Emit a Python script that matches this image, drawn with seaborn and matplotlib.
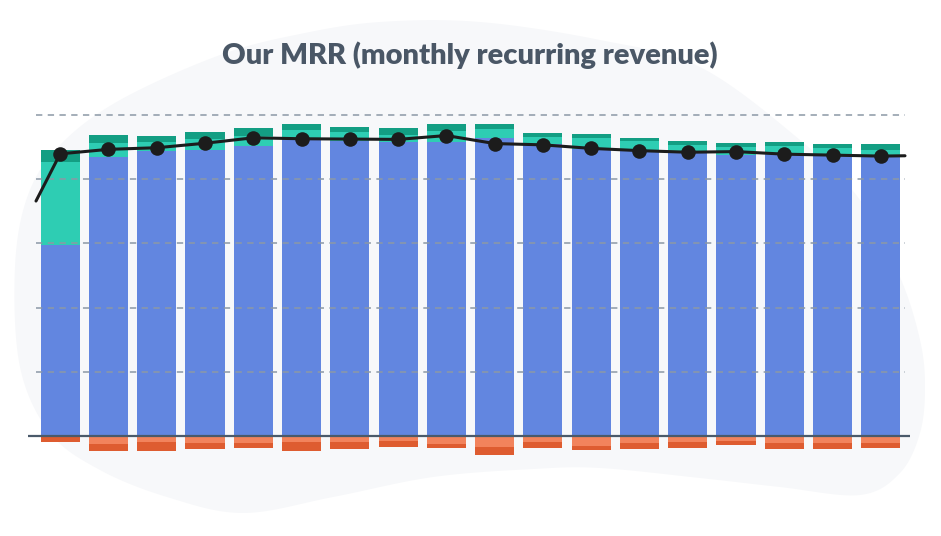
import numpy as np
import pandas as pd
import matplotlib
matplotlib.use("Agg")
import matplotlib.pyplot as plt
from matplotlib.patches import Polygon
import seaborn as sns

# ---------------- data ----------------
months = ["M%02d" % (i + 1) for i in range(18)]
existing_mrr = [59.5, 87.0, 88.8, 89.1, 90.2, 92.2, 92.0, 91.7, 91.7, 92.9, 90.9, 89.3, 89.1, 88.1, 87.5, 87.9, 87.5, 87.2]
new_mrr = [25.9, 4.2, 2.8, 3.4, 3.2, 3.1, 2.8, 2.1, 3.2, 2.7, 2.1, 3.4, 2.9, 2.4, 2.6, 2.5, 2.1, 2.0]
expansion_mrr = [3.7, 2.7, 1.9, 2.2, 2.6, 1.9, 1.4, 2.0, 2.2, 1.5, 1.5, 1.3, 0.7, 1.5, 1.2, 1.2, 1.4, 1.7]
contraction_mrr = [0.0, 2.5, 1.9, 2.3, 2.1, 1.9, 1.9, 1.6, 2.4, 3.5, 1.8, 3.0, 2.3, 1.9, 1.6, 2.3, 2.3, 2.1]
churn_mrr = [2.0, 2.1, 2.8, 1.8, 1.5, 2.9, 2.1, 1.8, 1.2, 2.5, 1.9, 1.5, 1.8, 1.9, 1.2, 1.8, 1.8, 1.7]
net_mrr = [87.9, 89.3, 89.8, 91.2, 92.9, 92.6, 92.5, 92.4, 93.6, 91.1, 90.7, 89.6, 88.9, 88.4, 88.6, 87.8, 87.5, 87.2]
net_mrr_before = 73.2
net_mrr_after = 87.3
grid_values = [20, 40, 60, 80, 100]

title = "Our MRR (monthly recurring revenue)"

# ---------------- colours ----------------
C_BLUE = "#6286E0"
C_TEAL = "#2ECDB3"
C_TEAL_D = "#139E83"
C_OR = "#F2835C"
C_OR_D = "#DE5C30"
C_GRID = "#8C99A6"
C_ZERO = "#4A5A6A"
C_TITLE = "#4A5766"
C_BLOB = "#F7F8FA"

sns.set_theme(style="white")
plt.rcParams["font.family"] = ["Lato", "DejaVu Sans"]

W, H = 941, 536
fig = plt.figure(figsize=(W / 100, H / 100), dpi=100)
fig.patch.set_facecolor("white")

# ---------------- background blob ----------------
pts = np.array([
    (15, 267), (20, 367), (50, 433), (100, 470), (167, 497), (243, 513), (333, 497),
    (433, 477), (533, 469), (600, 468), (700, 478), (780, 487), (860, 495), (900, 473),
    (920, 433), (925, 387), (920, 340), (900, 277), (860, 200), (800, 140), (700, 67),
    (600, 40), (480, 22), (380, 22), (300, 34), (220, 55), (120, 100), (60, 145), (28, 195),
], dtype=float)


def catmull_closed(p, n=20):
    out = []
    m = len(p)
    for i in range(m):
        p0, p1, p2, p3 = p[i - 1], p[i], p[(i + 1) % m], p[(i + 2) % m]
        for t in np.linspace(0, 1, n, endpoint=False):
            t2, t3 = t * t, t * t * t
            out.append(0.5 * ((2 * p1) + (-p0 + p2) * t + (2 * p0 - 5 * p1 + 4 * p2 - p3) * t2
                              + (-p0 + 3 * p1 - 3 * p2 + p3) * t3))
    return np.array(out)


bg = fig.add_axes([0, 0, 1, 1], zorder=-10)
bg.set_xlim(0, W)
bg.set_ylim(H, 0)
bg.axis("off")
curve = catmull_closed(pts)
bg.add_patch(Polygon(curve, closed=True, facecolor=C_BLOB, edgecolor="none"))

# ---------------- axes ----------------
ymin, ymax = -10, 105
px_per_unit = 321.0 / 100
zero_px = 436
ax_bottom_px = zero_px - ymin * px_per_unit
ax_top_px = zero_px - ymax * px_per_unit
x_left_px, x_right_px = 36, 905
ax = fig.add_axes([x_left_px / W, 1 - ax_bottom_px / H,
                   (x_right_px - x_left_px) / W, (ax_bottom_px - ax_top_px) / H], zorder=1)
ax.set_facecolor("none")

df = pd.DataFrame({
    "month": months,
    "existing": existing_mrr,
    "new": new_mrr,
    "expansion": expansion_mrr,
    "contraction": contraction_mrr,
    "churn": churn_mrr,
})
df["top3"] = df["existing"] + df["new"] + df["expansion"]
df["top2"] = df["existing"] + df["new"]
df["neg2"] = -(df["contraction"] + df["churn"])
df["neg1"] = -df["contraction"]

bw = 0.81
common = dict(x="month", order=months, width=bw, saturation=1, linewidth=0, ax=ax, errorbar=None)
sns.barplot(data=df, y="top3", color=C_TEAL_D, **common)
sns.barplot(data=df, y="top2", color=C_TEAL, **common)
sns.barplot(data=df, y="existing", color=C_BLUE, **common)
sns.barplot(data=df, y="neg2", color=C_OR_D, **common)
sns.barplot(data=df, y="neg1", color=C_OR, **common)

n = len(months)
# gridlines
ax.hlines(grid_values, -0.5, n - 0.5, colors=C_GRID, linewidth=1.3,
          linestyles=(0, (3.5, 3)), alpha=0.85, zorder=3)
# zero line
ax.plot([-0.66, n - 0.4], [0, 0], color=C_ZERO, linewidth=1.6, zorder=4, clip_on=False,
        solid_capstyle="butt")

# net MRR line
line_x = [-0.5] + list(range(n)) + [n - 0.5]
line_y = [net_mrr_before] + net_mrr + [net_mrr_after]
sns.lineplot(x=line_x, y=line_y, color="#1C1C1C", linewidth=2.2, ax=ax, zorder=5,
             sort=False, clip_on=False)
sns.scatterplot(x=list(range(n)), y=net_mrr, color="#1C1C1C", s=110, linewidth=0,
                ax=ax, zorder=6, clip_on=False)

ax.set_xlim(-0.5, n - 0.5)
ax.set_ylim(ymin, ymax)
ax.set_xticks([])
ax.set_yticks([])
ax.set_xlabel("")
ax.set_ylabel("")
for s in ax.spines.values():
    s.set_visible(False)

fig.text(470 / W, 1 - 55 / H, title, ha="center", va="center", fontsize=21,
         fontweight="heavy", color=C_TITLE)

fig.savefig("out.png", dpi=100, facecolor="white")
